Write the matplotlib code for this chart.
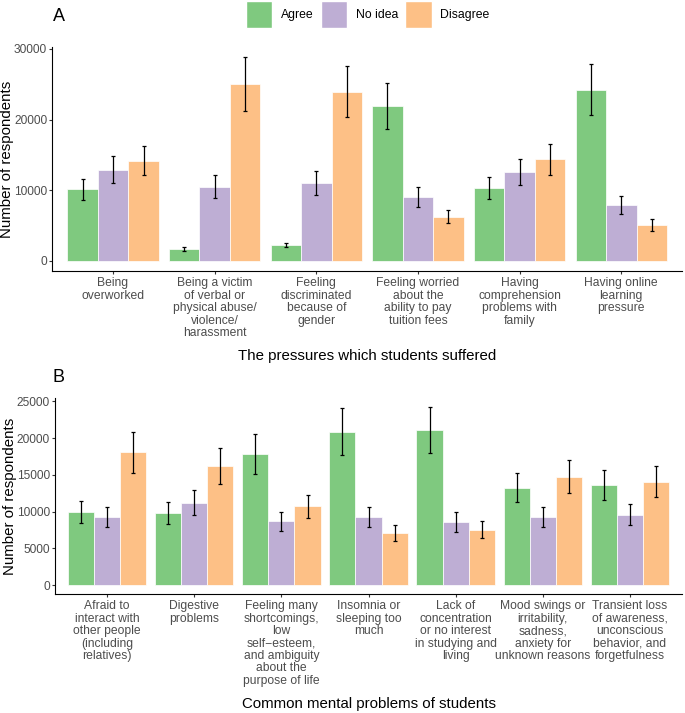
import numpy as np
import matplotlib
matplotlib.use("Agg")
import matplotlib.pyplot as plt
from matplotlib.patches import Patch

plt.rcParams['font.family'] = ['Liberation Sans', 'DejaVu Sans']

# ---- data ----
groups = ['Agree', 'No idea', 'Disagree']
colors = ['#7FC97F', '#BEAED4', '#FDC086']

labels_a = ['Being\noverworked',
            'Being a victim\nof verbal or\nphysical abuse/\nviolence/\nharassment',
            'Feeling\ndiscriminated\nbecause of\ngender',
            'Feeling worried\nabout the\nability to pay\ntuition fees',
            'Having\ncomprehension\nproblems with\nfamily',
            'Having online\nlearning\npressure']
agree_a = [10100, 1700, 2250, 21950, 10300, 24250]
agree_a_err = [1500, 260, 300, 3300, 1600, 3650]
noidea_a = [12900, 10500, 11000, 9050, 12550, 7900]
noidea_a_err = [1930, 1650, 1700, 1390, 1880, 1230]
disagree_a = [14200, 25050, 23950, 6250, 14350, 5050]
disagree_a_err = [2120, 3780, 3600, 950, 2220, 800]

labels_b = ['Afraid to\ninteract with\nother people\n(including\nrelatives)',
            'Digestive\nproblems',
            'Feeling many\nshortcomings,\nlow\nself\u2212esteem,\nand ambiguity\nabout the\npurpose of life',
            'Insomnia or\nsleeping too\nmuch',
            'Lack of\nconcentration\nor no interest\nin studying and\nliving',
            'Mood swings or\nirritability,\nsadness,\nanxiety for\nunknown reasons',
            'Transient loss\nof awareness,\nunconscious\nbehavior, and\nforgetfulness']
agree_b = [9900, 9750, 17850, 20900, 21100, 13250, 13600]
agree_b_err = [1500, 1500, 2700, 3150, 3170, 1990, 2050]
noidea_b = [9250, 11200, 8650, 9250, 8600, 9250, 9600]
noidea_b_err = [1390, 1720, 1300, 1410, 1320, 1390, 1430]
disagree_b = [18050, 16200, 10700, 7100, 7550, 14750, 14050]
disagree_b_err = [2740, 2440, 1620, 1080, 1140, 2210, 2120]


def draw_panel(ax, labels, series, errs, yticks, xlabel, ylab_x):
    n = len(labels)
    x = np.arange(n)
    w = 0.3
    for i, (vals, err) in enumerate(zip(series, errs)):
        pos = x + (i - 1) * w
        ax.bar(pos, vals, width=w, color=colors[i], edgecolor='white', linewidth=0.5)
        ax.errorbar(pos, vals, yerr=err, fmt='none', ecolor='black',
                    elinewidth=0.9, capsize=1.3, capthick=0.9)
    # ggplot-like 5% expansion
    hi = max(max(np.array(v) + np.array(e)) for v, e in zip(series, errs))
    ax.set_ylim(-0.05 * hi, hi * 1.05)
    ax.set_xlim(-0.6, n - 0.4)
    ax.set_yticks(yticks)
    ax.set_xticks(x)
    ax.set_xticklabels(labels, fontsize=8.7, color='#4D4D4D', linespacing=1.05)
    ax.tick_params(axis='y', labelsize=8.6, labelcolor='#4D4D4D', length=2.5,
                   color='#333333', pad=1)
    ax.tick_params(axis='x', length=2.5, color='#333333', pad=2)
    for s in ['top', 'right']:
        ax.spines[s].set_visible(False)
    for s in ['left', 'bottom']:
        ax.spines[s].set_linewidth(0.8)
    ax.set_ylabel('Number of respondents', fontsize=10.8)
    ax.yaxis.set_label_coords(ylab_x, 0.5)
    ax.set_xlabel(xlabel, fontsize=10.8, labelpad=7)


fig = plt.figure(figsize=(6.85, 7.13), dpi=100)
ax_a = fig.add_axes([0.076, 0.620, 0.920, 0.314])
ax_b = fig.add_axes([0.080, 0.167, 0.916, 0.275])

draw_panel(ax_a, labels_a, [agree_a, noidea_a, disagree_a],
           [agree_a_err, noidea_a_err, disagree_a_err],
           [0, 10000, 20000, 30000], 'The pressures which students suffered', -0.060)
draw_panel(ax_b, labels_b, [agree_b, noidea_b, disagree_b],
           [agree_b_err, noidea_b_err, disagree_b_err],
           [0, 5000, 10000, 15000, 20000, 25000], 'Common mental problems of students', -0.061)

fig.text(0.0854, 0.977, 'A', fontsize=13, va='center', ha='center')
fig.text(0.0854, 0.470, 'B', fontsize=13, va='center', ha='center')

handles = [Patch(facecolor=c, edgecolor='white', label=g) for c, g in zip(colors, groups)]
fig.legend(handles=handles, loc='center', bbox_to_anchor=(0.537, 0.980), ncol=3,
           frameon=False, fontsize=8.8, handlelength=2.15, handleheight=3.0,
           handletextpad=0.7, columnspacing=0.6, borderpad=0)

fig.savefig('out.png', dpi=100)
